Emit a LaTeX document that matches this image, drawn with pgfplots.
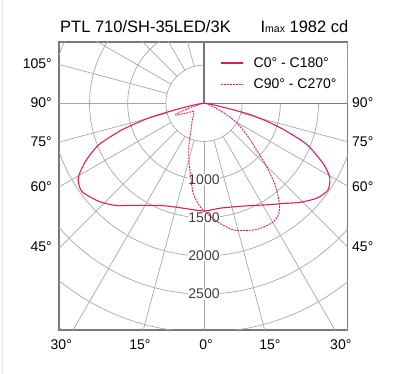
\documentclass[border=0pt]{standalone}
\usepackage{fontspec}
\setmainfont{Liberation Sans}
\usepackage{pgfplots}
\pgfplotsset{compat=1.18}
\definecolor{gridc}{RGB}{168,168,168}
\definecolor{boxc}{RGB}{120,120,120}
\definecolor{curvec}{RGB}{225,30,90}

\begin{document}
\begin{tikzpicture}[x=1pt,y=1pt]
\begin{axis}[
  width=288.5pt, height=288pt, scale only axis,
  xmin=-1900, xmax=1880, ymin=-2970, ymax=803,
  ticks=none,
  axis line style={draw=boxc, line width=1.2pt},
  legend style={at={(axis cs:215,630)}, anchor=north west,
    draw=none, fill=none, inner sep=0pt, row sep=6pt, column sep=8pt,
    font=\fontsize{14}{16}\selectfont},
  legend cell align=left,
  legend image code/.code={\draw[#1] (0pt,0pt) -- (22pt,0pt);},
]
\coordinate (O) at (rel axis cs:0,0);
% polar grid
\pgfplotsinvokeforeach{500,1000,...,3500}{
  \draw[gridc, line width=0.7pt] (axis cs:0,0) circle[radius=#1];
}
\pgfplotsinvokeforeach{0,15,...,345}{
  \draw[gridc, line width=0.7pt] (axis cs:{500*cos(#1)},{500*sin(#1)}) -- (axis cs:{4000*cos(#1)},{4000*sin(#1)});
}
% legend frame
\draw[boxc, line width=1.2pt, fill=white] (axis cs:0,0) rectangle (axis cs:1880,803);
% intensity labels
\foreach \r in {1000,1500,2000,2500}{
  \edef\tmp{\noexpand\node[fill=white, inner sep=0.5pt, text=black!75,
    font=\noexpand\fontsize{14}{16}\noexpand\selectfont] at (axis cs:0,-\r) {\r};}
  \tmp
}

% C0 - C180 (angle = gamma - 90, intensity in cd)
\addplot[curvec, line width=1.1pt, smooth, tension=0.4, data cs=polar] coordinates {
  (-180,0) (-175,40) (-170,150) (-167.3,383) (-165.1,749) (-162.1,1126)
  (-158.5,1482) (-153.9,1729) (-149.3,1917) (-144.2,1975) (-137,1884)
  (-131,1772) (-125.1,1635) (-118,1514) (-110.5,1435) (-101.8,1402)
  (-90,1411) (-81,1390) (-70.5,1432) (-65,1478) (-58.1,1566) (-52,1667)
  (-45.7,1812) (-39.9,1934) (-35,1982) (-30.7,1917) (-27.1,1764)
  (-21.9,1457) (-18.3,1101) (-16,860) (-13.8,627) (-12.5,380) (-10,150)
  (-5,40) (0,0)
};
\addlegendentry{C0° - C180°}
% C90 - C270
\addplot[curvec, line width=0.9pt, dash pattern=on 2pt off 1pt, smooth, tension=0.4, data cs=polar] coordinates {
  (-180,0) (-168,40) (-162,200) (-159,380) (-157,400) (-154,320) (-150,250)
  (-145,185) (-142,170) (-136,185) (-130,220) (-123,290) (-118,350)
  (-115,410) (-112,500) (-109,610) (-105,770) (-101,940) (-97,1180)
  (-93,1330) (-90,1411) (-83.6,1561) (-76.8,1706) (-68.5,1784) (-64,1800)
  (-59.5,1800) (-57,1770) (-55,1722) (-53,1640) (-51,1535) (-49,1420)
  (-47,1280) (-44.5,1110) (-42,940) (-38.5,780) (-35,640) (-31,500)
  (-28,380) (-25,260) (-20,120) (-10,30) (0,0)
};
\addlegendentry{C90° - C270°}
\end{axis}

\pgfresetboundingbox
\begin{scope}[shift={(O)}, xshift=-59pt, yshift=-44pt]
\useasboundingbox (0,0) rectangle (396,374);
\draw[gray!20, line width=1pt] (3,0) -- (3,374);
% title
\node[anchor=base west, inner sep=0pt, font=\fontsize{16.5}{18}\selectfont] at (60,341.7) {PTL 710/SH-35LED/3K};
\node[anchor=base east, inner sep=0pt, font=\fontsize{16.5}{18}\selectfont] at (348.5,341.7) {I{\fontsize{10.5}{12}\selectfont max} 1982 cd};
% angle labels
\begin{scope}[every node/.style={font=\fontsize{14}{16}\selectfont, inner sep=0pt}]
\node[anchor=east] at (52,310) {105°};
\node[anchor=east] at (52,271) {90°};
\node[anchor=east] at (52,232) {75°};
\node[anchor=east] at (52,187) {60°};
\node[anchor=east] at (52,127) {45°};
\node[anchor=west] at (352,271) {90°};
\node[anchor=west] at (352,232) {75°};
\node[anchor=west] at (352,187) {60°};
\node[anchor=west] at (352,127) {45°};
\node at (61.3,29) {30°};
\node at (140,29) {15°};
\node at (206,29) {0°};
\node at (270,29) {15°};
\node at (340.8,29) {30°};
\end{scope}
\end{scope}
\end{tikzpicture}
\end{document}
